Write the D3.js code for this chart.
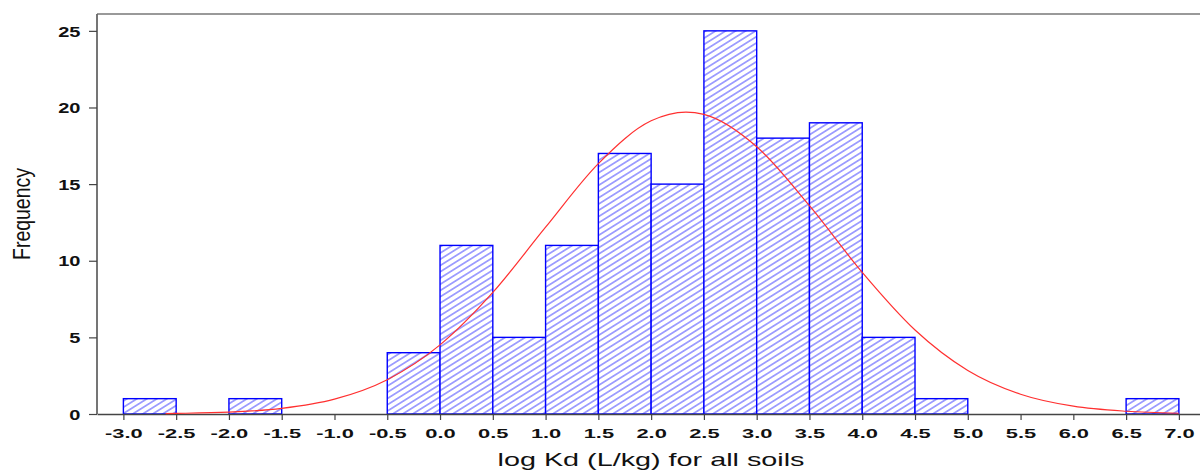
<!DOCTYPE html>
<html>
<head>
<meta charset="utf-8">
<script src="https://cdn.jsdelivr.net/npm/d3@7"></script>
<style>
  html, body { margin: 0; padding: 0; background: #fff; }
  svg { display: block; }
</style>
</head>
<body>
<svg id="chart" width="1200" height="476"></svg>
<script>
// ---- data ----
const binStarts = [-3.0, -2.0, -0.5, 0.0, 0.5, 1.0, 1.5, 2.0, 2.5, 3.0, 3.5, 4.0, 4.5, 6.5];
const binCounts = [1, 1, 4, 11, 5, 11, 17, 15, 25, 18, 19, 5, 1, 1];
const binWidth = 0.5;
const curveX = [-2.6, -2.5, -2.0, -1.5, -1.0, -0.5, 0.0, 0.5, 1.0, 1.5, 2.0, 2.33, 2.5, 3.0, 3.5, 4.0, 4.5, 5.0, 5.5, 6.0, 6.5, 7.0];
const curveY = [0.03, 0.04, 0.12, 0.37, 0.97, 2.24, 4.51, 7.93, 12.19, 16.34, 19.13, 19.7, 19.55, 17.44, 13.59, 9.24, 5.48, 2.84, 1.29, 0.51, 0.18, 0.05];
const xTicks = [-3.0, -2.5, -2.0, -1.5, -1.0, -0.5, 0.0, 0.5, 1.0, 1.5, 2.0, 2.5, 3.0, 3.5, 4.0, 4.5, 5.0, 5.5, 6.0, 6.5, 7.0];
const yTicks = [0, 5, 10, 15, 20, 25];
const xTitle = "log Kd (L/kg) for all soils";
const yTitle = "Frequency";

// ---- layout ----
const svg = d3.select("#chart");
const x = d3.scaleLinear().domain([-3.25, 7.2]).range([97, 1200]);
const y = d3.scaleLinear().domain([0, 26.1]).range([414, 14]);

// hatch pattern
const defs = svg.append("defs");
const pat = defs.append("pattern")
  .attr("id", "hatch")
  .attr("patternUnits", "userSpaceOnUse")
  .attr("width", 10).attr("height", 5.3)
  .attr("patternTransform", "rotate(-32)");
pat.append("rect").attr("width", 10).attr("height", 5.3).attr("fill", "#fff");
pat.append("line")
  .attr("x1", 0).attr("x2", 10).attr("y1", 2.65).attr("y2", 2.65)
  .attr("stroke", "#4f4fff").attr("stroke-width", 1);

// top border
svg.append("line")
  .attr("x1", x.range()[0]).attr("x2", 1200)
  .attr("y1", y.range()[1]).attr("y2", y.range()[1])
  .attr("stroke", "#777").attr("stroke-width", 1.6);

// bars
const bars = binStarts.map((s, i) => ({ x0: s, x1: s + binWidth, c: binCounts[i] }));
svg.append("g").selectAll("rect").data(bars).join("rect")
  .attr("x", d => x(d.x0))
  .attr("y", d => y(d.c))
  .attr("width", d => x(d.x1) - x(d.x0))
  .attr("height", d => y(0) - y(d.c))
  .attr("fill", "url(#hatch)")
  .attr("stroke", "#0000ff")
  .attr("stroke-width", 1.4);

// x axis
const xAxis = svg.append("g")
  .attr("transform", `translate(0,${y(0)})`)
  .call(d3.axisBottom(x).tickValues(xTicks).tickSize(6).tickSizeOuter(0).tickFormat(d3.format(".1f")));
xAxis.select(".domain").attr("stroke", "#444").attr("stroke-width", 1.6);
xAxis.selectAll(".tick line").attr("stroke", "#444").attr("stroke-width", 1.2);
xAxis.selectAll(".tick text")
  .attr("y", 15)
  .attr("font-family", "Liberation Sans, Arial, sans-serif")
  .attr("font-weight", "bold")
  .attr("font-size", 12.5)
  .attr("fill", "#111")
  .attr("transform", "scale(1.75,1)")
  .text(d => d3.format(".1f")(d).replace("−", "-"));

// y axis
const yAxis = svg.append("g")
  .attr("transform", `translate(${x.range()[0]},0)`)
  .call(d3.axisLeft(y).tickValues(yTicks).tickSize(8).tickSizeOuter(0));
yAxis.select(".domain").attr("stroke", "#666").attr("stroke-width", 1.8)
  .attr("d", `M0,${y(0)}V${y.range()[1]}`);
yAxis.selectAll(".tick line").attr("stroke", "#444").attr("stroke-width", 1.2);
yAxis.selectAll(".tick text")
  .attr("x", -12)
  .attr("dy", "0.36em")
  .attr("font-family", "Liberation Sans, Arial, sans-serif")
  .attr("font-weight", "bold")
  .attr("font-size", 14.5)
  .attr("fill", "#111")
  .attr("transform", "scale(1.38,1)");

// fitted curve
const line = d3.line()
  .x((d, i) => x(curveX[i]))
  .y(d => y(d))
  .curve(d3.curveMonotoneX);
svg.append("path")
  .datum(curveY)
  .attr("d", line)
  .attr("fill", "none")
  .attr("stroke", "#ff3030")
  .attr("stroke-width", 1.2);

// titles
svg.append("text")
  .attr("x", 651).attr("y", 466)
  .attr("text-anchor", "middle")
  .attr("font-family", "Liberation Sans, Arial, sans-serif")
  .attr("font-size", 19)
  .attr("fill", "#111")
  .attr("textLength", 307)
  .attr("lengthAdjust", "spacingAndGlyphs")
  .text(xTitle);

svg.append("text")
  .attr("transform", "translate(30,214) scale(1.3,1) rotate(-90)")
  .attr("text-anchor", "middle")
  .attr("font-family", "Liberation Sans, Arial, sans-serif")
  .attr("font-size", 19)
  .attr("fill", "#111")
  .attr("textLength", 92)
  .attr("lengthAdjust", "spacingAndGlyphs")
  .text(yTitle);
</script>
</body>
</html>
